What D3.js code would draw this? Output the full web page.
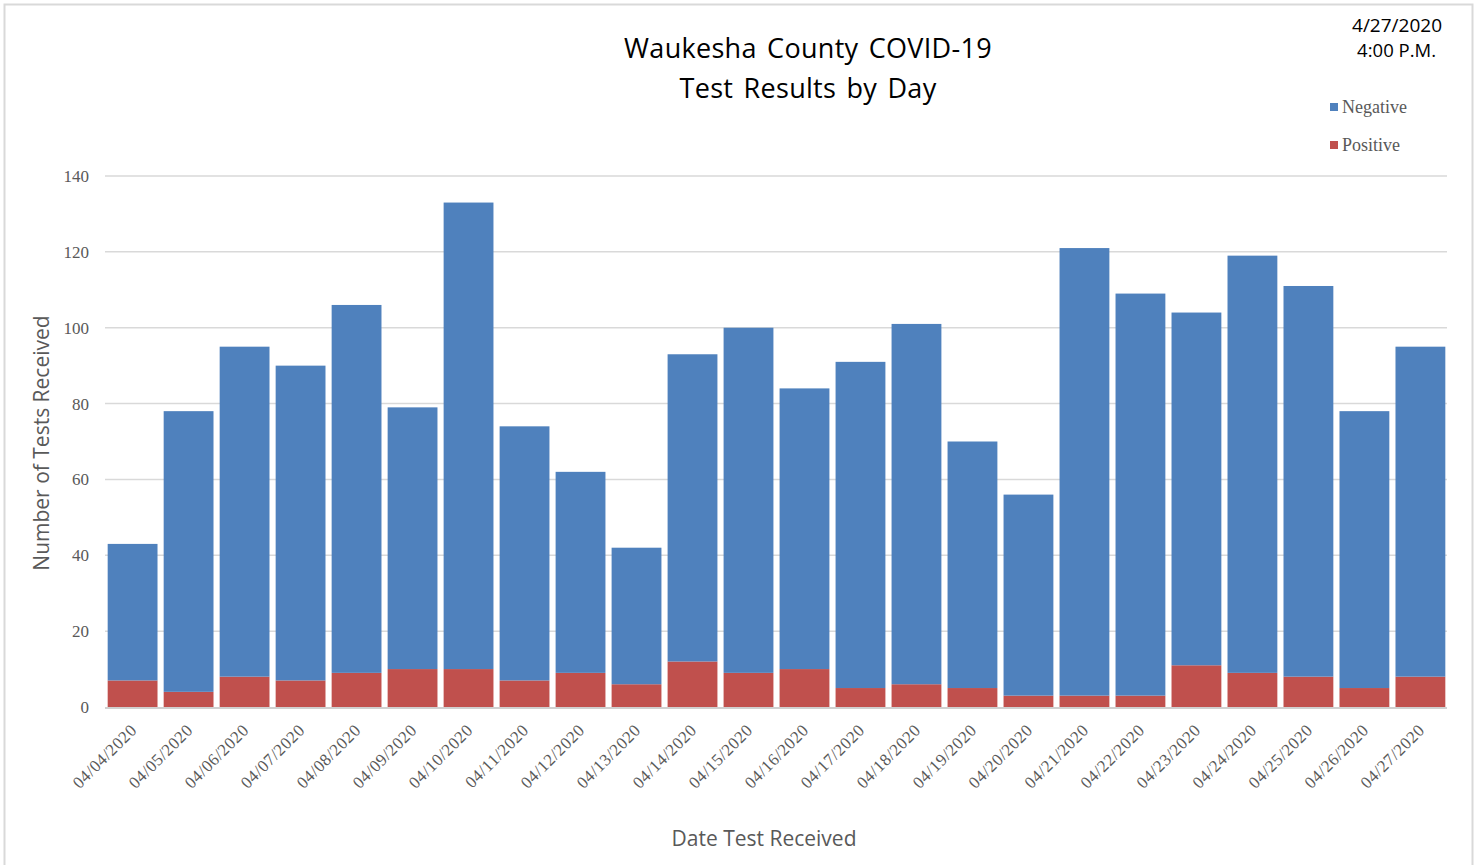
<!DOCTYPE html>
<html>
<head>
<meta charset="utf-8">
<script src="https://cdn.jsdelivr.net/npm/d3@7"></script>
<style>
  body { margin: 0; background: #fff; }
  svg { display: block; }
</style>
</head>
<body>
<svg></svg>
<script>
// test results by day, stacked (positive at the bottom)
let dates = ['04/04/2020','04/05/2020','04/06/2020','04/07/2020','04/08/2020','04/09/2020',
  '04/10/2020','04/11/2020','04/12/2020','04/13/2020','04/14/2020','04/15/2020',
  '04/16/2020','04/17/2020','04/18/2020','04/19/2020','04/20/2020','04/21/2020',
  '04/22/2020','04/23/2020','04/24/2020','04/25/2020','04/26/2020','04/27/2020']
let positive = [7,4,8,7,9,10,10,7,9,6,12,9,10,5,6,5,3,3,3,11,9,8,5,8]
let negative = [36,74,87,83,97,69,123,67,53,36,81,91,74,86,95,65,53,118,106,93,110,103,73,87]
let yTicks = [0,20,40,60,80,100,120,140]

let W = 1476, H = 865
let svg = d3.select('svg').attr('width', W).attr('height', H)

// outer frame
svg.append('rect')
  .attr('x', 4.5).attr('y', 4.5)
  .attr('width', 1468).attr('height', 862)
  .attr('fill', 'none').attr('stroke', '#d9d9d9').attr('stroke-width', 2)

let x = d3.scaleBand().domain(dates).range([106, 1447])
  .paddingInner(0.11).paddingOuter(0.03)
let y = d3.scaleLinear().domain([0, 140]).range([707, 176])

let serif = '"Liberation Serif", "DejaVu Serif", serif'
let sans = '"Open Sans", "Noto Sans", sans-serif'

// gridlines
svg.append('g').selectAll('line')
  .data(yTicks.slice(1))
  .enter().append('line')
    .attr('x1', 105).attr('x2', 1447)
    .attr('y1', d => y(d)).attr('y2', d => y(d))
    .attr('stroke', '#d9d9d9').attr('stroke-width', 1.5)

// y tick labels
svg.append('g').selectAll('text')
  .data(yTicks)
  .enter().append('text')
    .attr('x', 89)
    .attr('y', d => y(d))
    .attr('dy', '0.35em')
    .attr('text-anchor', 'end')
    .attr('font-family', serif)
    .attr('font-size', 17)
    .attr('fill', '#595959')
    .text(d => d)

let rows = dates.map((d, i) => ({date: d, Positive: positive[i], Negative: negative[i]}))
let stack = d3.stack().keys(['Positive', 'Negative'])(rows)
let colors = {Positive: '#c0504d', Negative: '#4f81bd'}

svg.append('g').selectAll('g')
  .data(stack)
  .enter().append('g')
    .attr('fill', s => colors[s.key])
  .selectAll('rect')
  .data(s => s)
  .enter().append('rect')
    .attr('x', d => x(d.data.date))
    .attr('width', x.bandwidth())
    .attr('y', d => y(d[1]))
    .attr('height', d => y(d[0]) - y(d[1]))

// baseline
svg.append('line')
  .attr('x1', 105).attr('x2', 1447)
  .attr('y1', y(0) + 1).attr('y2', y(0) + 1)
  .attr('stroke', '#d0d0d0').attr('stroke-width', 2)

// x tick labels, rotated
svg.append('g').selectAll('text')
  .data(dates)
  .enter().append('text')
    .attr('transform', d => 'translate(' + (x(d) + x.bandwidth() / 2 + 1) + ',' + 727 + ') rotate(-45)')
    .attr('text-anchor', 'end')
    .attr('dy', '0.35em')
    .attr('font-family', serif)
    .attr('font-size', 17)
    .attr('letter-spacing', 0.5)
    .attr('fill', '#595959')
    .text(d => d)

// titles
svg.append('text')
  .attr('x', 808).attr('y', 58)
  .attr('text-anchor', 'middle')
  .attr('font-family', sans).attr('font-size', 27).attr('fill', '#000')
  .attr('letter-spacing', 0.3).attr('word-spacing', 3)
  .text('Waukesha County COVID-19')
svg.append('text')
  .attr('x', 808).attr('y', 98)
  .attr('text-anchor', 'middle')
  .attr('font-family', sans).attr('font-size', 27).attr('fill', '#000')
  .attr('letter-spacing', 0.3).attr('word-spacing', 3)
  .text('Test Results by Day')

svg.append('text')
  .attr('x', 1442).attr('y', 32)
  .attr('text-anchor', 'end')
  .attr('font-family', sans).attr('font-size', 19).attr('fill', '#000')
  .text('4/27/2020')
svg.append('text')
  .attr('x', 1436).attr('y', 57)
  .attr('text-anchor', 'end')
  .attr('font-family', sans).attr('font-size', 18.5).attr('fill', '#000')
  .text('4:00 P.M.')

svg.append('text')
  .attr('transform', 'translate(49,443) rotate(-90)')
  .attr('text-anchor', 'middle')
  .attr('font-family', sans).attr('font-size', 21).attr('fill', '#595959')
  .text('Number of Tests Received')

svg.append('text')
  .attr('x', 764).attr('y', 846)
  .attr('text-anchor', 'middle')
  .attr('font-family', sans).attr('font-size', 21).attr('fill', '#595959')
  .text('Date Test Received')

// legend
let legend = svg.append('g').selectAll('g')
  .data(['Negative', 'Positive'])
  .enter().append('g')
    .attr('transform', (d, i) => 'translate(1330,' + (107 + i * 38) + ')')
legend.append('rect')
  .attr('x', 0).attr('y', -4).attr('width', 8).attr('height', 8)
  .attr('fill', d => colors[d])
legend.append('text')
  .attr('x', 12).attr('dy', '0.35em')
  .attr('font-family', serif)
  .attr('font-size', 18).attr('fill', '#595959')
  .text(d => d)
</script>
</body>
</html>
